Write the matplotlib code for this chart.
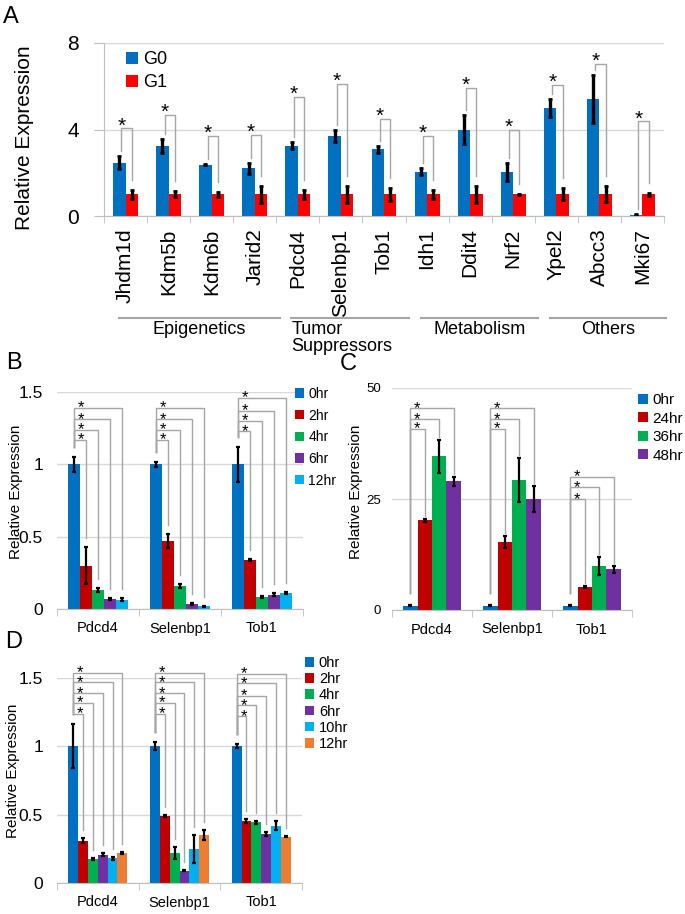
import numpy as np
import matplotlib
matplotlib.use('Agg')
import matplotlib.pyplot as plt
from matplotlib.patches import Patch
from matplotlib.transforms import offset_copy, blended_transform_factory

plt.rcParams['font.family'] = ['Liberation Sans', 'DejaVu Sans']

# ---------------- data : panel A ----------------
genes_a = ['Jhdm1d', 'Kdm5b', 'Kdm6b', 'Jarid2', 'Pdcd4', 'Selenbp1', 'Tob1',
           'Idh1', 'Ddit4', 'Nrf2', 'Ypel2', 'Abcc3', 'Mki67']
g0_vals = [2.46, 3.23, 2.37, 2.20, 3.25, 3.71, 3.08, 2.05, 4.00, 2.02, 5.00, 5.40, 0.06]
g0_errs = [0.30, 0.32, 0.03, 0.25, 0.17, 0.27, 0.17, 0.15, 0.69, 0.41, 0.40, 1.12, 0.02]
g1_vals = [1.0, 1.0, 1.0, 1.0, 1.0, 1.0, 1.0, 1.0, 1.0, 1.0, 1.0, 1.0, 1.0]
g1_errs = [0.20, 0.14, 0.10, 0.40, 0.20, 0.41, 0.31, 0.20, 0.40, 0.04, 0.28, 0.37, 0.08]
sig_a = [4.05, 4.66, 3.71, 3.74, 5.52, 6.10, 4.49, 3.71, 5.94, 4.00, 6.08, 7.02, 4.37]
groups_a = ['Epigenetics', 'Tumor\nSuppressors', 'Metabolism', 'Others']
group_first = [0, 4, 7, 10]
group_last = [3, 6, 9, 12]
series_a = ['G0', 'G1']

# ---------------- data : panel B ----------------
genes_bcd = ['Pdcd4', 'Selenbp1', 'Tob1']
times_b = ['0hr', '2hr', '4hr', '6hr', '12hr']
b_vals = [[1.00, 1.00, 1.00],
          [0.30, 0.47, 0.34],
          [0.13, 0.16, 0.085],
          [0.07, 0.035, 0.10],
          [0.065, 0.02, 0.11]]
b_errs = [[0.05, 0.015, 0.12],
          [0.13, 0.05, 0.005],
          [0.015, 0.015, 0.008],
          [0.008, 0.004, 0.008],
          [0.01, 0.003, 0.008]]
b_sig = [[1.17, 1.24, 1.31, 1.39],
         [1.17, 1.24, 1.31, 1.39],
         [1.23, 1.30, 1.37, 1.46]]

# ---------------- data : panel C ----------------
times_c = ['0hr', '24hr', '36hr', '48hr']
c_vals = [[1.0, 1.0, 1.0],
          [20.2, 15.3, 5.2],
          [34.6, 29.3, 9.9],
          [29.0, 25.0, 9.2]]
c_errs = [[0.2, 0.2, 0.2],
          [0.3, 1.3, 0.2],
          [3.7, 5.0, 2.0],
          [1.0, 2.9, 0.8]]
c_sig = [[40.8, 43.0, 45.5],
         [40.8, 43.0, 45.5],
         [25.0, 27.7, 30.0]]

# ---------------- data : panel D ----------------
times_d = ['0hr', '2hr', '4hr', '6hr', '10hr', '12hr']
d_vals = [[1.00, 1.00, 1.00],
          [0.31, 0.49, 0.455],
          [0.176, 0.22, 0.445],
          [0.206, 0.09, 0.36],
          [0.18, 0.25, 0.42],
          [0.22, 0.35, 0.34]]
d_errs = [[0.16, 0.03, 0.015],
          [0.02, 0.004, 0.015],
          [0.006, 0.045, 0.01],
          [0.01, 0.005, 0.015],
          [0.01, 0.10, 0.035],
          [0.005, 0.035, 0.004]]
d_sig = [[1.24, 1.32, 1.39, 1.47, 1.54],
         [1.24, 1.32, 1.39, 1.47, 1.54],
         [1.22, 1.30, 1.37, 1.46, 1.53]]

# ---------------- style ----------------
BLUE = '#0070C0'
RED_A = '#FF0000'
RED = '#C00000'
GREEN = '#00B050'
PURPLE = '#7030A0'
LBLUE = '#00B0F0'
ORANGE = '#ED7D31'
GRID = '#d9d9d9'
AXC = '#bfbfbf'
BR = '#a6a6a6'

W, H = 685, 914
fig = plt.figure(figsize=(W / 100, H / 100), dpi=100)


def fx(x):
    return x / W


def fy(y):
    return 1 - y / H


def axes_px(l, t, r, b):
    return fig.add_axes([l / W, 1 - b / H, (r - l) / W, (b - t) / H])


def style(ax, ymax, yticks, ylabels, ncat, fs_tick, pad, left_spine=False, ytick_len=0):
    ax.set_ylim(0, ymax)
    ax.set_xlim(-0.5, ncat - 0.5)
    for s in ['top', 'right']:
        ax.spines[s].set_visible(False)
    ax.spines['left'].set_visible(left_spine)
    ax.spines['left'].set_color(AXC)
    ax.spines['bottom'].set_color(AXC)
    ax.set_yticks(yticks)
    ax.set_yticklabels(ylabels, fontsize=fs_tick)
    ax.tick_params(axis='y', length=ytick_len, color=AXC, pad=pad)
    ax.yaxis.grid(True, color=GRID, lw=1)
    ax.set_axisbelow(True)
    ax.set_xticks(np.arange(ncat))
    ax.set_xticks(np.arange(ncat + 1) - 0.5, minor=True)
    ax.tick_params(axis='x', which='major', length=0)
    ax.tick_params(axis='x', which='minor', length=5, color=AXC)


def star(ax, x, y, dx_px, dy_px, fs):
    tr = offset_copy(ax.transData, fig=fig, x=dx_px * 0.72,
                     y=dy_px * 0.72 - 0.58 * fs, units='points')
    ax.text(x, y, '*', fontsize=fs, ha='center', va='baseline', transform=tr,
            clip_on=False)


def px2data(ax, px, ymax):
    h = ax.get_position().height * H
    return px / h * ymax


def multi_panel(ax, vals, errs, sig, colors, ymax, gap_left, gap_right, star_fs, elw):
    n = len(vals)
    ncat = len(vals[0])
    w = 0.72 / n
    x = np.arange(ncat)
    offs = [(i - (n - 1) / 2) * w for i in range(n)]
    for i in range(n):
        ax.bar(x + offs[i], vals[i], w, color=colors[i], yerr=errs[i], zorder=2,
               error_kw=dict(ecolor='black', elinewidth=elw, capsize=1.2, capthick=elw))
    gl = px2data(ax, gap_left, ymax)
    gr = px2data(ax, gap_right, ymax)
    for j in range(ncat):
        x0 = x[j] + offs[0]
        y0 = vals[0][j] + errs[0][j] + gl
        for k, lev in enumerate(sig[j]):
            i = k + 1
            xi = x[j] + offs[i]
            yi = vals[i][j] + errs[i][j] + gr
            ax.plot([x0, x0, xi, xi], [y0, lev, lev, yi], color=BR, lw=1,
                    clip_on=False, zorder=3)
            star(ax, x0, lev, 7, 5, star_fs)


def legend(ax, labels, colors, x_px, y_px, fs, spacing):
    handles = [Patch(facecolor=c, edgecolor='none', label=l) for c, l in zip(colors, labels)]
    ax.legend(handles=handles, loc='upper left', bbox_to_anchor=(fx(x_px), fy(y_px)),
              bbox_transform=fig.transFigure, frameon=False, fontsize=fs,
              handlelength=0.65, handleheight=0.65, handletextpad=0.3,
              labelspacing=spacing, borderpad=0, borderaxespad=0)


# ================= Panel A =================
axA = axes_px(104, 43, 664, 216)
style(axA, 8, [0, 4, 8], ['0', '4', '8'], len(genes_a), 15, 11, left_spine=True, ytick_len=7)
xa = np.arange(len(genes_a))
wa = 0.29
axA.bar(xa - wa / 2, g0_vals, wa, color=BLUE, yerr=g0_errs, zorder=2,
        error_kw=dict(ecolor='black', elinewidth=2.4, capsize=1.5, capthick=2))
axA.bar(xa + wa / 2, g1_vals, wa, color=RED_A, yerr=g1_errs, zorder=2,
        error_kw=dict(ecolor='black', elinewidth=2.4, capsize=1.5, capthick=2))
gl = px2data(axA, 5, 8)
gr = px2data(axA, 10, 8)
for j in range(len(genes_a)):
    x0 = xa[j] - wa / 2 + 0.05
    x1 = xa[j] + wa / 2
    y0 = g0_vals[j] + g0_errs[j] + gl
    y1 = g1_vals[j] + g1_errs[j] + gr
    axA.plot([x0, x0, x1, x1], [y0, sig_a[j], sig_a[j], y1], color=BR, lw=1,
             clip_on=False, zorder=3)
    star(axA, x0, sig_a[j], 0, 9, 15)
axA.set_xticklabels(genes_a, rotation=90, fontsize=15, va='top', ha='center')
axA.tick_params(axis='x', which='major', pad=9)
legend(axA, series_a, [BLUE, RED_A], 126, 51, 13, 0.35)
fig.text(fx(24), fy(138), 'Relative Expression', rotation=90, fontsize=15,
         ha='center', va='center')
btr = blended_transform_factory(axA.transData, fig.transFigure)
for name, f, l in zip(groups_a, group_first, group_last):
    xs = f - 0.15
    xe = min(l + 0.58, len(genes_a) - 0.45)
    axA.plot([xs, xe], [fy(318), fy(318)], color=BR, lw=1.5, transform=btr, clip_on=False)
    if '\n' in name:
        axA.text(xs, fy(321), name, transform=btr, fontsize=13, ha='left', va='top',
                 linespacing=1.0)
    else:
        axA.text((xs + xe) / 2, fy(321), name, transform=btr, fontsize=13,
                 ha='center', va='top')

# ================= Panel B =================
axB = axes_px(57, 392, 303, 609)
style(axB, 1.5, [0, 0.5, 1, 1.5], ['0', '0.5', '1', '1.5'], 3, 12.5, 10)
cols_b = [BLUE, RED, GREEN, PURPLE, LBLUE]
multi_panel(axB, b_vals, b_errs, b_sig, cols_b, 1.5, 10, 9, 12, 1.6)
axB.set_xticklabels(genes_bcd, fontsize=10.5)
axB.tick_params(axis='x', which='major', pad=9)
legend(axB, times_b, cols_b, 295, 387, 10, 0.55)
fig.text(fx(16), fy(492), 'Relative Expression', rotation=90, fontsize=11,
         ha='center', va='center')

# ================= Panel C =================
axC = axes_px(392, 388, 632, 610)
style(axC, 50, [0, 25, 50], ['0', '25', '50'], 3, 9.5, 8)
cols_c = [BLUE, RED, GREEN, PURPLE]
multi_panel(axC, c_vals, c_errs, c_sig, cols_c, 50, 12, 3, 12, 1.6)
axC.set_xticklabels(genes_bcd, fontsize=10.5)
axC.tick_params(axis='x', which='major', pad=9)
legend(axC, times_c, cols_c, 638, 393, 11, 0.3)
fig.text(fx(356), fy(492), 'Relative Expression', rotation=90, fontsize=11,
         ha='center', va='center')

# ================= Panel D =================
axD = axes_px(57, 678, 302, 883)
style(axD, 1.5, [0, 0.5, 1, 1.5], ['0', '0.5', '1', '1.5'], 3, 12.5, 10)
cols_d = [BLUE, RED, GREEN, PURPLE, LBLUE, ORANGE]
multi_panel(axD, d_vals, d_errs, d_sig, cols_d, 1.5, 10, 8, 12, 1.6)
axD.set_xticklabels(genes_bcd, fontsize=10.5)
axD.tick_params(axis='x', which='major', pad=9)
legend(axD, times_d, cols_d, 305, 656, 10.5, 0.15)
fig.text(fx(13), fy(771), 'Relative Expression', rotation=90, fontsize=11,
         ha='center', va='center')

# panel letters
for lab, x, y in [('A', 3, 6), ('B', 6, 352), ('C', 340, 353), ('D', 5, 631)]:
    fig.text(fx(x), fy(y), lab, fontsize=17, ha='left', va='top')

fig.savefig('out.png', dpi=100)
